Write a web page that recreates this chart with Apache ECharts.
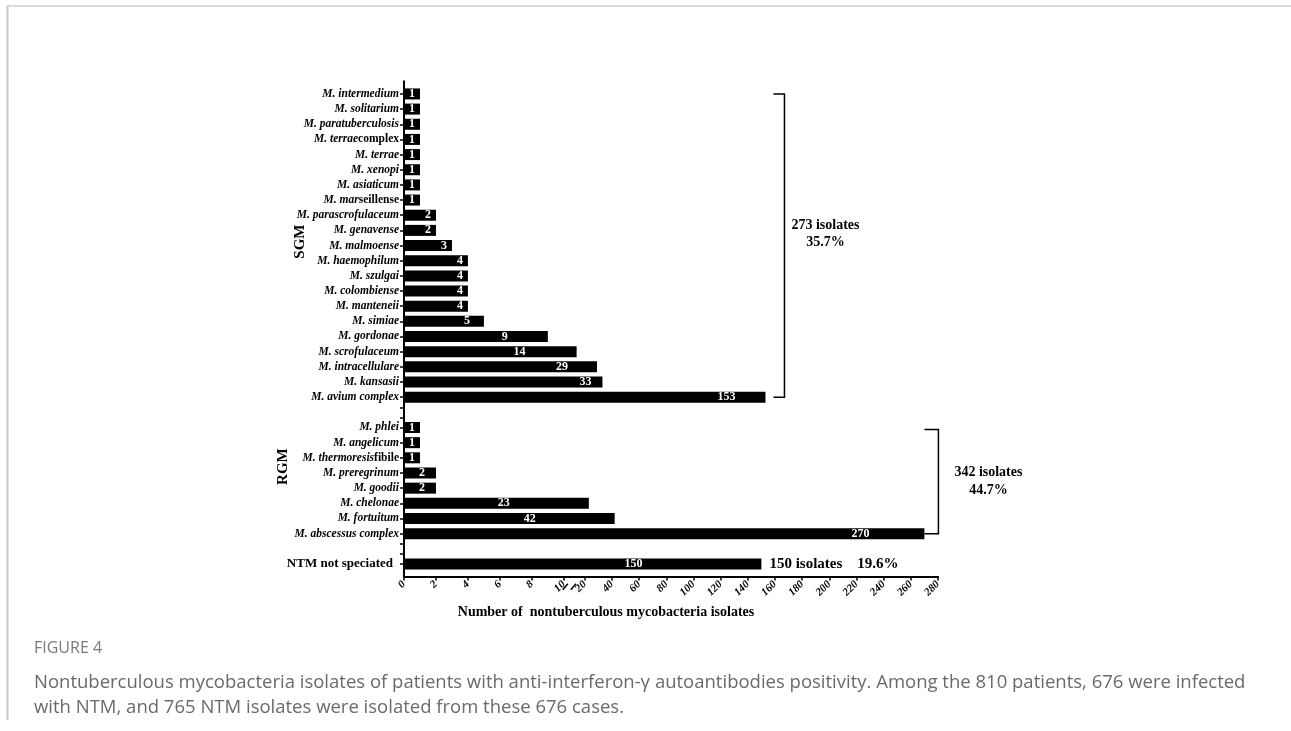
<!DOCTYPE html>
<html>
<head>
<meta charset="utf-8">
<script src="https://cdn.jsdelivr.net/npm/echarts@6/dist/echarts.min.js"></script>
<style>
  html, body { margin: 0; padding: 0; background: #fff; }
  #chart { width: 1291px; height: 731px; }
</style>
</head>
<body>
<div id="chart"></div>
<script>
// SGM species, top to bottom
var sgmNames = ['M. intermedium', 'M. solitarium', 'M. paratuberculosis', 'M. terraecomplex',
  'M. terrae', 'M. xenopi', 'M. asiaticum', 'M. marseillense', 'M. parascrofulaceum',
  'M. genavense', 'M. malmoense', 'M. haemophilum', 'M. szulgai', 'M. colombiense',
  'M. manteneii', 'M. simiae', 'M. gordonae', 'M. scrofulaceum', 'M. intracellulare',
  'M. kansasii', 'M. avium complex']
var sgmCounts = [1, 1, 1, 1, 1, 1, 1, 1, 2, 2, 3, 4, 4, 4, 4, 5, 9, 14, 29, 33, 153]

// RGM species, top to bottom
var rgmNames = ['M. phlei', 'M. angelicum', 'M. thermoresisfibile', 'M. preregrinum',
  'M. goodii', 'M. chelonae', 'M. fortuitum', 'M. abscessus complex']
var rgmCounts = [1, 1, 1, 2, 2, 23, 42, 270]

var otherNames = ['NTM not speciated']
var otherCounts = [150]

var xTicks = [0, 2, 4, 6, 8, 10, 20, 40, 60, 80, 100, 120, 140, 160, 180, 200, 220, 240, 260, 280]

var sgmNote = ['273 isolates', '35.7%']
var rgmNote = ['342 isolates', '44.7%']
var otherNote = '150 isolates    19.6%'

// broken x axis: 0-10 drawn wide, 10-280 squeezed after the break
var JUMP = 0.46, SQUEEZE = 0.085
function tx(v) { return v <= 10 ? v : 10 + JUMP + (v - 10) * SQUEEZE }
function untx(t) { return t <= 10.001 ? Math.round(t) : Math.round(10 + (t - 10 - JUMP) / SQUEEZE) }

// parts of labels that are printed upright
var uprightTail = { 'M. terraecomplex': 'complex', 'M. marseillense': 'seillense', 'M. thermoresisfibile': 'fibile' }
// hand placed value labels (px shift left of the bar end)
var labelShift = {
  'M. simiae': -9, 'M. gordonae': -35, 'M. scrofulaceum': -46, 'M. intracellulare': -24,
  'M. kansasii': -6, 'M. avium complex': -25, 'M. preregrinum': -6, 'M. goodii': -6,
  'M. chelonae': -74, 'M. fortuitum': -74, 'M. abscessus complex': -50, 'NTM not speciated': -114
}

// category slots: species every 3 slots, 2 minor ticks between groups
var slots = []
var gapCount = 0
function blank(tick) { slots.push({ name: 'gap' + (gapCount++), value: null, tick: tick }) }
function addGroup(names, counts) {
  names.forEach(function(n, i) {
    if (i > 0) { blank(false); blank(false) }
    slots.push({ name: n, value: counts[i], tick: true })
  })
}
function groupGap() { blank(false); blank(true); blank(false); blank(true); blank(false) }

blank(false); blank(false)
var sgmStart = slots.length
addGroup(sgmNames, sgmCounts)
var sgmEnd = slots.length - 1
groupGap()
var rgmStart = slots.length
addGroup(rgmNames, rgmCounts)
var rgmEnd = slots.length - 1
groupGap()
var otherIdx = slots.length
addGroup(otherNames, otherCounts)
blank(false); blank(false)

var barData = slots.map(function(s) {
  if (s.value === null) return null
  var item = { value: tx(s.value), raw: s.value }
  if (labelShift[s.name]) item.label = { offset: [labelShift[s.name], 0] }
  return item
})

var serif = 'Liberation Serif'
var chart = echarts.init(document.getElementById('chart'))

chart.setOption({
  backgroundColor: '#fff',
  animation: false,
  grid: { left: 404, right: 353, top: 81.3, bottom: 154.4, containLabel: false },
  xAxis: {
    type: 'value',
    min: 0,
    max: tx(280),
    splitLine: { show: false },
    axisLine: { show: true, lineStyle: { color: '#000', width: 2 } },
    axisTick: { show: true, length: 4, customValues: xTicks.map(tx), lineStyle: { color: '#000', width: 1.5 } },
    axisLabel: {
      customValues: xTicks.map(tx),
      rotate: 45,
      margin: 6,
      color: '#000',
      fontFamily: serif,
      fontWeight: 'bold',
      fontStyle: 'italic',
      fontSize: 11,
      formatter: function(v) { return String(untx(v)) }
    },
    name: 'Number of  nontuberculous mycobacteria isolates',
    nameLocation: 'middle',
    nameGap: 27,
    nameTextStyle: { color: '#000', fontFamily: serif, fontWeight: 'bold', fontSize: 14, padding: [0, 130, 0, 0] }
  },
  yAxis: {
    type: 'category',
    inverse: true,
    data: slots.map(function(s) { return s.name }),
    axisLine: { show: true, lineStyle: { color: '#000', width: 2 } },
    axisTick: {
      show: true, length: 4, alignWithLabel: true,
      interval: function(i) { return slots[i].tick },
      lineStyle: { color: '#000', width: 1.5 }
    },
    axisLabel: {
      interval: function(i) { return slots[i].value !== null },
      margin: 5,
      color: '#000',
      fontFamily: serif,
      fontWeight: 'bold',
      fontStyle: 'italic',
      fontSize: 11.5,
      formatter: function(v) {
        if (v.indexOf('gap') === 0) return ''
        if (otherNames.indexOf(v) >= 0) return '{b|' + v + '}'
        var tail = uprightTail[v]
        if (tail) return '{i|' + v.slice(0, v.length - tail.length) + '}{n|' + tail + '}'
        return '{i|' + v + '}'
      },
      rich: {
        i: { fontFamily: serif, fontWeight: 'bold', fontStyle: 'italic', fontSize: 11.5, color: '#000' },
        n: { fontFamily: serif, fontWeight: 'bold', fontStyle: 'normal', fontSize: 11.5, color: '#000' },
        b: { fontFamily: serif, fontWeight: 'bold', fontStyle: 'normal', fontSize: 13, color: '#000', padding: [0, 6, 0, 0] }
      }
    }
  },
  series: [{
    type: 'bar',
    data: barData,
    barWidth: 11,
    itemStyle: { color: '#000' },
    label: {
      show: true,
      position: 'insideRight',
      distance: 5,
      color: '#fff',
      fontFamily: serif,
      fontWeight: 'bold',
      fontSize: 12,
      formatter: function(p) { return p.data ? String(p.data.raw) : '' }
    }
  }]
})

function pt(v, idx) { return chart.convertToPixel({ xAxisIndex: 0, yAxisIndex: 0 }, [tx(v), idx]) }

function drawNotes() {
  var bold = 'bold 14px "Liberation Serif"'
  var g = []
  var line = { stroke: '#000', lineWidth: 1.5, fill: null }

  // SGM bracket
  var sTop = pt(0, sgmStart)[1], sBot = pt(0, sgmEnd)[1]
  var sx = pt(153, sgmEnd)[0] + 8
  g.push({ type: 'polyline', shape: { points: [[sx, sTop], [sx + 11, sTop], [sx + 11, sBot], [sx, sBot]] }, style: line })
  g.push({ type: 'text', x: sx + 52, y: (sTop + sBot) / 2 - 20, style: { text: sgmNote[0], font: bold, fill: '#000', textAlign: 'center', textVerticalAlign: 'middle' } })
  g.push({ type: 'text', x: sx + 52, y: (sTop + sBot) / 2 - 3, style: { text: sgmNote[1], font: bold, fill: '#000', textAlign: 'center', textVerticalAlign: 'middle' } })

  // RGM bracket
  var rTop = pt(0, rgmStart)[1] + 2, rBot = pt(0, rgmEnd)[1]
  var rx = pt(270, rgmEnd)[0]
  g.push({ type: 'polyline', shape: { points: [[rx, rTop], [rx + 14, rTop], [rx + 14, rBot], [rx, rBot]] }, style: line })
  g.push({ type: 'text', x: rx + 64, y: (rTop + rBot) / 2 - 9, style: { text: rgmNote[0], font: bold, fill: '#000', textAlign: 'center', textVerticalAlign: 'middle' } })
  g.push({ type: 'text', x: rx + 64, y: (rTop + rBot) / 2 + 9, style: { text: rgmNote[1], font: bold, fill: '#000', textAlign: 'center', textVerticalAlign: 'middle' } })

  // not speciated note
  var o = pt(150, otherIdx)
  g.push({ type: 'text', x: o[0] + 8, y: o[1], style: { text: otherNote, font: 'bold 15px "Liberation Serif"', fill: '#000', textAlign: 'left', textVerticalAlign: 'middle' } })

  // group names
  var sMid = (sTop + sBot) / 2 - 4, rMid = (rTop + rBot) / 2 - 15
  g.push({ type: 'text', x: 300, y: sMid, rotation: Math.PI / 2, style: { text: 'SGM', font: 'bold 15px "Liberation Serif"', fill: '#000', textAlign: 'center', textVerticalAlign: 'middle' } })
  g.push({ type: 'text', x: 283, y: rMid, rotation: Math.PI / 2, style: { text: 'RGM', font: 'bold 15px "Liberation Serif"', fill: '#000', textAlign: 'center', textVerticalAlign: 'middle' } })

  // axis break
  var b1 = pt(10, 0)[0]
  var ay = pt(0, slots.length - 1)[1] + 2.5 * 5.054
  var bm = b1 + 5
  g.push({ type: 'rect', shape: { x: bm - 3, y: ay - 2, width: 6, height: 4 }, style: { fill: '#fff' }, z: 100 })
  g.push({ type: 'line', shape: { x1: bm - 6, y1: ay + 3, x2: bm - 1, y2: ay - 3 }, style: { stroke: '#000', lineWidth: 1.5 }, z: 101 })
  g.push({ type: 'line', shape: { x1: bm + 2, y1: ay + 3, x2: bm + 7, y2: ay - 3 }, style: { stroke: '#000', lineWidth: 1.5 }, z: 101 })

  // page frame and caption
  g.push({ type: 'line', shape: { x1: 7, y1: 6, x2: 1291, y2: 6 }, style: { stroke: '#dcdcdc', lineWidth: 2 } })
  g.push({ type: 'line', shape: { x1: 7.5, y1: 6, x2: 7.5, y2: 720 }, style: { stroke: '#c8c8c8', lineWidth: 2 } })
  g.push({ type: 'text', x: 34, y: 648, style: { text: 'FIGURE 4', font: '16px "Open Sans"', fill: '#7a7a7a', textVerticalAlign: 'middle' } })
  g.push({ type: 'text', x: 34, y: 683, style: { text: 'Nontuberculous mycobacteria isolates of patients with anti-interferon-γ autoantibodies positivity. Among the 810 patients, 676 were infected', font: '18.5px "Open Sans"', fill: '#6a6a6a', textVerticalAlign: 'middle' } })
  g.push({ type: 'text', x: 34, y: 708, style: { text: 'with NTM, and 765 NTM isolates were isolated from these 676 cases.', font: '18.5px "Open Sans"', fill: '#6a6a6a', textVerticalAlign: 'middle' } })

  chart.setOption({ graphic: g })
}
drawNotes()
</script>
</body>
</html>
